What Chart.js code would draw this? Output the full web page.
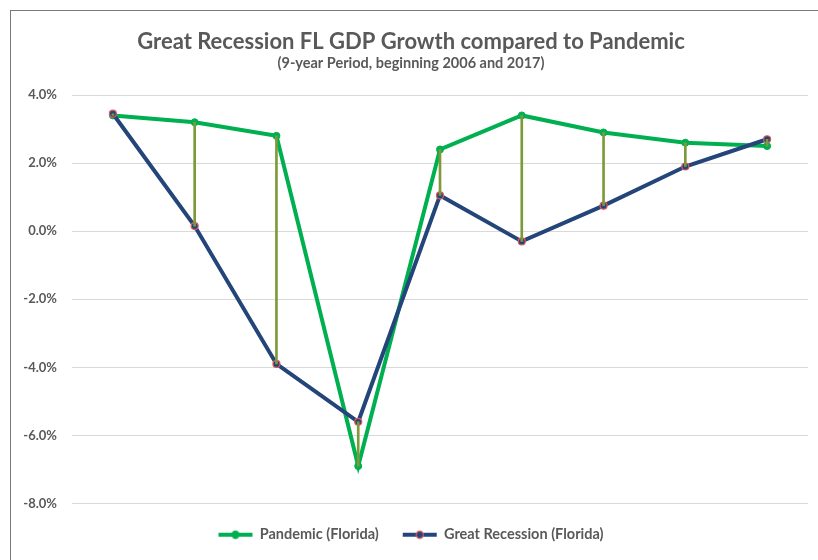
<!DOCTYPE html>
<html>
<head>
<meta charset="utf-8">
<script src="https://cdn.jsdelivr.net/npm/chart.js@4/dist/chart.umd.min.js"></script>
<style>
  body { margin: 0; background: #fff; }
  #wrap { position: relative; width: 818px; height: 560px; overflow: hidden; }
  #frame { position: absolute; left: 10px; top: 10px; width: 900px; height: 700px; border: 1.5px solid #7a7a7a; }
  canvas { position: absolute; left: 0; top: 0; }
</style>
</head>
<body>
<div id="wrap">
  <div id="frame"></div>
  <canvas id="gdp" width="818" height="560"></canvas>
</div>
<script>
// 9 years, no visible x labels
var periods = ["Year 1", "Year 2", "Year 3", "Year 4", "Year 5", "Year 6", "Year 7", "Year 8", "Year 9"];
var pandemic = [3.4, 3.2, 2.8, -6.9, 2.4, 3.4, 2.9, 2.6, 2.5];
var recession = [3.45, 0.15, -3.9, -5.6, 1.05, -0.3, 0.75, 1.9, 2.7];
var yTicks = [-8, -6, -4, -2, 0, 2, 4];

var GREEN = "#00b050";
var NAVY = "#24457a";
var font = "Lato, 'Liberation Sans', sans-serif";

// drop lines between the two series
var dropLines = pandemic.map(function (p, i) { return [p, recession[i]]; });

function legendIcon(line, fill, stroke) {
  var c = document.createElement("canvas");
  c.width = 36; c.height = 10;
  var g = c.getContext("2d");
  g.strokeStyle = line; g.lineWidth = 4;
  g.beginPath(); g.moveTo(1, 5); g.lineTo(35, 5); g.stroke();
  g.fillStyle = fill; g.strokeStyle = stroke; g.lineWidth = 1.2;
  g.beginPath(); g.arc(18, 5, 3.6, 0, Math.PI * 2); g.fill(); g.stroke();
  return c;
}
var icons = [legendIcon(GREEN, GREEN, GREEN), legendIcon(NAVY, NAVY, "#e0585c")];

var ctx = document.getElementById("gdp").getContext("2d");
var gdpChart = new Chart(ctx, {
  type: "line",
  data: {
    labels: periods,
    datasets: [
      {
        label: "drops",
        type: "bar",
        data: dropLines,
        backgroundColor: "#7d9a3a",
        barThickness: 2,
        order: 0
      },
      {
        label: "Pandemic (Florida)",
        data: pandemic,
        borderColor: GREEN,
        backgroundColor: GREEN,
        borderWidth: 4,
        pointRadius: 3.5,
        pointBorderWidth: 1,
        pointBorderColor: GREEN,
        tension: 0,
        order: 2
      },
      {
        label: "Great Recession (Florida)",
        data: recession,
        borderColor: NAVY,
        backgroundColor: NAVY,
        borderWidth: 4,
        pointRadius: 3.5,
        pointBorderWidth: 1.2,
        pointBorderColor: "#e0585c",
        tension: 0,
        order: 1
      }
    ]
  },
  options: {
    responsive: false,
    animation: false,
    layout: { padding: { left: 14, right: 10, bottom: 8 } },
    scales: {
      x: {
        display: false,
        offset: true
      },
      y: {
        min: -8,
        max: 4,
        afterBuildTicks: function (axis) {
          axis.ticks = yTicks.map(function (v) { return { value: v }; });
        },
        afterFit: function (axis) { axis.width = 58; },
        border: { display: false },
        grid: { color: "#d9d9d9", lineWidth: 1, drawTicks: false },
        ticks: {
          padding: 15,
          color: "#595959",
          font: { family: font, size: 13, weight: "bold" },
          callback: function (v) { return v.toFixed(1) + "%"; }
        }
      }
    },
    plugins: {
      tooltip: { enabled: false },
      title: {
        display: true,
        text: "Great Recession FL GDP Growth compared to Pandemic",
        color: "#595959",
        font: { family: font, size: 22, weight: "bold", lineHeight: 1 },
        padding: { top: 31, bottom: 3 }
      },
      subtitle: {
        display: true,
        text: "(9-year Period, beginning 2006 and 2017)",
        color: "#595959",
        font: { family: font, size: 14.5, weight: "bold", lineHeight: 1 },
        padding: { top: 0, bottom: 24.5 }
      },
      legend: {
        position: "bottom",
        labels: {
          usePointStyle: true,
          pointStyleWidth: 34,
          padding: 24,
          color: "#595959",
          font: { family: font, size: 14.5, weight: "bold" },
          generateLabels: function (chart) {
            return chart.data.datasets.slice(1).map(function (ds, i) {
              return {
                text: ds.label,
                pointStyle: icons[i],
                fillStyle: ds.borderColor,
                strokeStyle: ds.borderColor,
                lineWidth: 0,
                fontColor: "#595959",
                datasetIndex: i + 1
              };
            });
          }
        }
      }
    }
  }
});
</script>
</body>
</html>
